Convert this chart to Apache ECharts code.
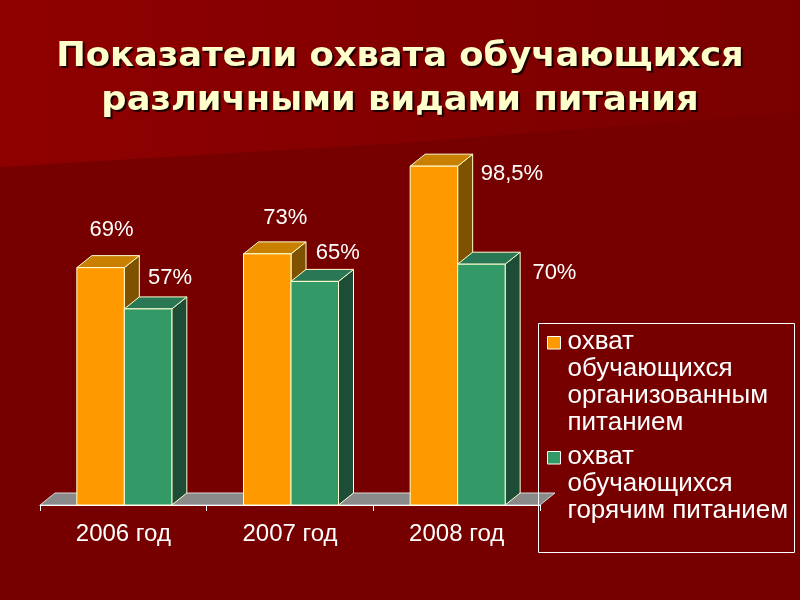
<!DOCTYPE html>
<html><head><meta charset="utf-8">
<script src="https://cdn.jsdelivr.net/npm/echarts@6/dist/echarts.min.js"></script>
<style>html,body{margin:0;padding:0;background:#760000}#c{width:800px;height:600px}</style>
</head><body><div id="c"></div>
<script>
const titleText = 'Показатели охвата обучающихся\nразличными видами питания';
const categories = ['2006 год', '2007 год', '2008 год'];
const seriesNames = ['охват обучающихся организованным питанием', 'охват обучающихся горячим питанием'];
const legendLines = [['охват', 'обучающихся', 'организованным', 'питанием'], ['охват', 'обучающихся', 'горячим питанием']];
const organized = [69, 73, 98.5];
const hot = [57, 65, 70];
// label placement (offsets from the bar front top-centre), kept apart from the data
const labelOffsets = [[[11, -38], [18, -36], [78, 8]], [[22, -31], [23, -28], [73, 9]]];

const palette = [
  { front: '#FF9900', top: '#C98000', side: '#7F5200' },
  { front: '#339966', top: '#2A7755', side: '#1D4D36' }
];
const DX = 15, DY = -12;
const EDGE = '#FFFFD0';

function fmt(v) { return String(v).replace('.', ',') + '%'; }

function makeBarRender(si) {
  return function (params, api) {
    const idx = api.value(0), v = api.value(1);
    const c = api.coord([idx, 0]);
    const t = api.coord([idx, v]);
    const bw = api.size([1, 0])[0] * 0.285;
    const x0 = c[0] + 1 + (si === 0 ? -bw : 0);
    const yb = c[1], yt = t[1];
    const col = palette[si];
    const off = labelOffsets[si][params.dataIndex];
    const st = (f) => ({ fill: f, stroke: EDGE, lineWidth: 1, lineJoin: 'round' });
    return {
      type: 'group',
      children: [
        { type: 'polygon', shape: { points: [[x0 + bw, yt], [x0 + bw + DX, yt + DY], [x0 + bw + DX, yb + DY], [x0 + bw, yb]] }, style: st(col.side) },
        { type: 'polygon', shape: { points: [[x0, yt], [x0 + bw, yt], [x0 + bw + DX, yt + DY], [x0 + DX, yt + DY]] }, style: st(col.top) },
        { type: 'rect', shape: { x: x0, y: yt, width: bw, height: yb - yt }, style: st(col.front) },
        { type: 'text', x: x0 + bw / 2 + off[0], y: yt + off[1],
          style: { text: fmt(v), fill: '#FFFFFF', font: '22px "Liberation Sans", Arial, sans-serif', align: 'center', verticalAlign: 'middle' } }
      ]
    };
  };
}

function floorRender(params, api) {
  const cs = params.coordSys;
  const x = cs.x, y = cs.y + cs.height, w = cs.width;
  return {
    type: 'polygon',
    shape: { points: [[x, y], [x + w, y], [x + w + DX, y + DY], [x + DX, y + DY]] },
    style: { fill: '#8A8A8A', stroke: '#D8D8D8', lineWidth: 1 }
  };
}

const legendEls = [];
legendEls.push({ type: 'rect', z: 10, shape: { x: 538.5, y: 323.5, width: 256, height: 229 }, style: { fill: 'none', stroke: '#FFFFFF', lineWidth: 1 } });
const legendTops = [328, 443];
legendLines.forEach((lines, i) => {
  legendEls.push({ type: 'rect', z: 10, shape: { x: 547.5, y: legendTops[i] + 8.5, width: 13, height: 12.5 }, style: { fill: palette[i].front, stroke: '#FFFFFF', lineWidth: 1 } });
  legendEls.push({ type: 'text', z: 10, x: 567.5, y: legendTops[i],
    style: { text: lines.join('\n'), fill: '#FFFFFF', font: '26px "Liberation Sans", Arial, sans-serif', lineHeight: 27, align: 'left', verticalAlign: 'top' } });
});

const titleEl = {
  type: 'text', z: 10, x: 400, y: 35, scaleX: 1.07,
  style: {
    text: titleText, fill: '#FFFFCC', align: 'center', verticalAlign: 'top', lineHeight: 44.5,
    font: 'bold 33px "DejaVu Sans", Verdana, sans-serif',
    textShadowColor: 'rgba(20,0,0,0.95)', textShadowOffsetX: 2, textShadowOffsetY: 2, textShadowBlur: 1
  }
};

const chart = echarts.init(document.getElementById('c'), null, { renderer: 'canvas' });
chart.setOption({
  backgroundColor: '#760000',
  animation: false,
  graphic: {
    elements: [
      { type: 'polygon', z: -100, silent: true,
        shape: { points: [[0, 0], [800, 0], [800, 112], [400, 143], [0, 167]] },
        style: { fill: new echarts.graphic.LinearGradient(0, 0, 1, 0, [
          { offset: 0, color: '#8F0000' }, { offset: 0.5, color: '#840000' }, { offset: 1, color: '#7A0000' }]) } },
      titleEl
    ].concat(legendEls)
  },
  grid: { left: 40, right: 260, top: 161, bottom: 95 },
  xAxis: {
    type: 'category', data: categories, z: 5,
    axisLine: { lineStyle: { color: '#FFFFFF', width: 1 } },
    axisTick: { show: true, length: 6, interval: 0, lineStyle: { color: '#FFFFFF' } },
    axisLabel: { color: '#FFFFFF', fontSize: 24, fontFamily: '"Liberation Sans", Arial, sans-serif', margin: 17 },
    splitLine: { show: false }
  },
  yAxis: { type: 'value', min: 0, max: 100, show: false },
  series: [
    { type: 'custom', name: 'floor', z: 1, renderItem: floorRender, data: [[0, 0]], silent: true },
    { type: 'custom', name: seriesNames[0], z: 2, renderItem: makeBarRender(0), data: organized.map((v, i) => [i, v]), encode: { x: 0, y: 1 } },
    { type: 'custom', name: seriesNames[1], z: 3, renderItem: makeBarRender(1), data: hot.map((v, i) => [i, v]), encode: { x: 0, y: 1 } }
  ]
});
</script>
</body></html>
